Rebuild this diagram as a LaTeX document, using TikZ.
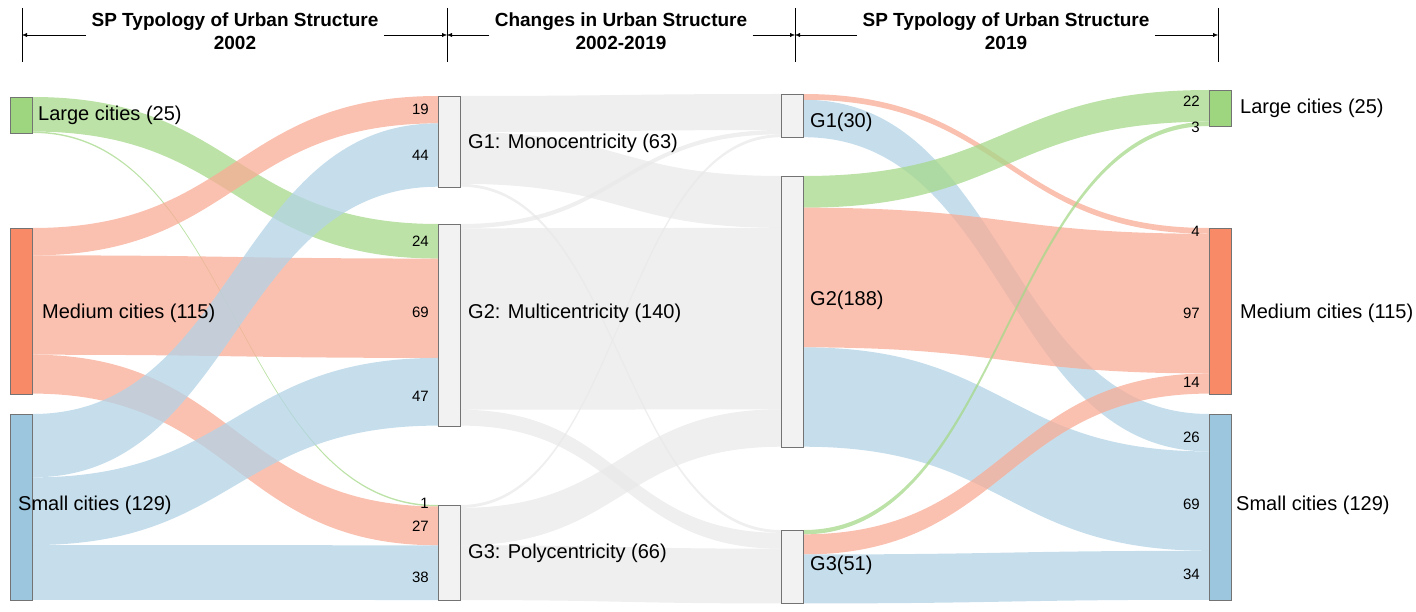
\documentclass[tikz,border=0pt]{standalone}
\usepackage{fontspec}
\setmainfont{Liberation Sans}
\usetikzlibrary{backgrounds,calc,arrows.meta}

\definecolor{lgreen}{HTML}{9ED57F}
\definecolor{lred}{HTML}{F98A68}
\definecolor{lblue}{HTML}{9CC5DE}
\definecolor{fgreen}{HTML}{A6D88A}
\definecolor{fred}{HTML}{F9AC96}
\definecolor{fblue}{HTML}{B3D3E6}
\definecolor{fgray}{HTML}{E9E9E9}

% one band of the flow, offsets and width in cities
\newcommand\flow[6]{%
  \fill[#6, opacity=.75] let \p1=(#1.north east), \p2=(#3.north west),
    \n1={\y1-#2*1.44pt}, \n2={\y2-#4*1.44pt}, \n3={#5*1.44pt}, \n4={(\x1+\x2)/2} in
    (\x1,\n1) .. controls (\n4,\n1) and (\n4,\n2) .. (\x2,\n2)
    -- (\x2,\n2-\n3) .. controls (\n4,\n2-\n3) and (\n4,\n1-\n3) .. (\x1,\n1-\n3) -- cycle;}
\newcommand\lab[3]{%
  \node[num, anchor=east] at ([xshift=-9pt, yshift=-#2*1.44pt]#1.north west) {#3};}

\begin{document}
\begin{tikzpicture}[x=1pt, y=-1pt]
        \tikzstyle{bar}=[draw=black!55, line width=.8pt, inner sep=0pt, minimum width=22pt, anchor=north west]
        \tikzstyle{num}=[font=\fontsize{15}{17}\selectfont, inner sep=0pt]
        \tikzstyle{cityname}=[font=\fontsize{20}{22}\selectfont, anchor=west, inner sep=0pt]
        \tikzstyle{heading}=[font=\fontsize{19}{23}\selectfont\bfseries, align=center]

        \useasboundingbox (0,0) rectangle (1416,612);

        % header
        \foreach \x/\n in {22/a, 447/b, 795/c, 1218/d} {
            \draw[line width=.8pt] (\x,8) coordinate (top\n) -- (\x,62);
            \coordinate (mid\n) at (\x,35);
        };
        \node[heading] (h1) at (235,31) {SP Typology of Urban Structure\\2002};
        \node[heading] (h2) at (621,31) {Changes in Urban Structure\\2002-2019};
        \node[heading] (h3) at (1006,31) {SP Typology of Urban Structure\\2019};
        \foreach \h/\l/\r in {h1/a/b, h2/b/c, h3/c/d} {
            \draw[-{Latex[length=5pt,width=4pt]}] (\h.west |- mid\l) ++(-2,0) -- (mid\l);
            \draw[-{Latex[length=5pt,width=4pt]}] (\h.east |- mid\r) ++(2,0) -- (mid\r);
        };

        % columns
        \node[bar, fill=lgreen, minimum height=36pt] (L) at (10,97) {};
        \node[bar, fill=lred, minimum height=165.6pt] (M) at (10,228) {};
        \node[bar, fill=lblue, minimum height=185.8pt] (S) at (10,414) {};
        \node[bar, fill=fgray!60, minimum height=90.7pt] (G1a) at (438,96) {};
        \node[bar, fill=fgray!60, minimum height=201.6pt] (G2a) at (438,224) {};
        \node[bar, fill=fgray!60, minimum height=95pt] (G3a) at (438,505) {};
        \node[bar, fill=fgray!60, minimum height=43.2pt] (G1b) at (781,94) {};
        \node[bar, fill=fgray!60, minimum height=270.7pt] (G2b) at (781,176) {};
        \node[bar, fill=fgray!60, minimum height=73.4pt] (G3b) at (781,530) {};
        \node[bar, fill=lgreen, minimum height=36pt] (LR) at (1209,90) {};
        \node[bar, fill=lred, minimum height=165.6pt] (MR) at (1209,228) {};
        \node[bar, fill=lblue, minimum height=185.8pt] (SR) at (1209,414) {};

        \begin{pgfonlayer}{background}
        \flow{L}{0}{G2a}{0}{24}{fgreen}
        \flow{L}{24}{G3a}{0}{1}{fgreen}
        \flow{M}{0}{G1a}{0}{19}{fred}
        \flow{M}{19}{G2a}{24}{69}{fred}
        \flow{M}{88}{G3a}{1}{27}{fred}
        \flow{S}{0}{G1a}{19}{44}{fblue}
        \flow{S}{44}{G2a}{93}{47}{fblue}
        \flow{S}{91}{G3a}{28}{38}{fblue}
        \flow{G1a}{0}{G1b}{0}{25}{fgray}
        \flow{G1a}{25}{G2b}{0}{36}{fgray}
        \flow{G1a}{61}{G3b}{0}{2}{fgray}
        \flow{G2a}{0}{G1b}{25}{3}{fgray}
        \flow{G2a}{3}{G2b}{36}{126}{fgray}
        \flow{G2a}{129}{G3b}{2}{11}{fgray}
        \flow{G3a}{0}{G1b}{28}{2}{fgray}
        \flow{G3a}{2}{G2b}{162}{26}{fgray}
        \flow{G3a}{28}{G3b}{13}{38}{fgray}
        \flow{G1b}{0}{MR}{0}{4}{fred}
        \flow{G1b}{4}{SR}{0}{26}{fblue}
        \flow{G2b}{0}{LR}{0}{22}{fgreen}
        \flow{G2b}{22}{MR}{4}{97}{fred}
        \flow{G2b}{119}{SR}{26}{69}{fblue}
        \flow{G3b}{0}{LR}{22}{3}{fgreen}
        \flow{G3b}{3}{MR}{101}{14}{fred}
        \flow{G3b}{17}{SR}{95}{34}{fblue}
        \end{pgfonlayer}

        % numbers
        \lab{G1a}{9.5}{19}  \lab{G1a}{41}{44}
        \lab{G2a}{12}{24}   \lab{G2a}{61}{69}  \lab{G2a}{120}{47}
        \lab{G3a}{-1}{1}    \lab{G3a}{15}{27}  \lab{G3a}{50}{38}
        \lab{LR}{8}{22}     \lab{LR}{26}{3}
        \lab{MR}{2}{4}      \lab{MR}{59}{97}     \lab{MR}{107}{14}
        \lab{SR}{16}{26}    \lab{SR}{63}{69}     \lab{SR}{111}{34}

        % names
        \node[cityname] (nL) at (38,115) {Large cities (25)};
        \node[cityname] (nM) at (42,313) {Medium cities (115)};
        \node[cityname] (nS) at (18,505) {Small cities (129)};
        \node[cityname] (nG1a) at (468,143) {G1: Monocentricity (63)};
        \node[cityname] (nG2a) at (468,313) {G2: Multicentricity (140)};
        \node[cityname] (nG3a) at (468,553) {G3: Polycentricity (66)};
        \node[cityname] (nG1b) at (810,122) {G1(30)};
        \node[cityname] (nG2b) at (810,300) {G2(188)};
        \node[cityname] (nG3b) at (810,565) {G3(51)};
        \node[cityname] (nLR) at (1240,108) {Large cities (25)};
        \node[cityname] (nMR) at (1240,313) {Medium cities (115)};
        \node[cityname] (nSR) at (1236,505) {Small cities (129)};
\end{tikzpicture}
\end{document}
